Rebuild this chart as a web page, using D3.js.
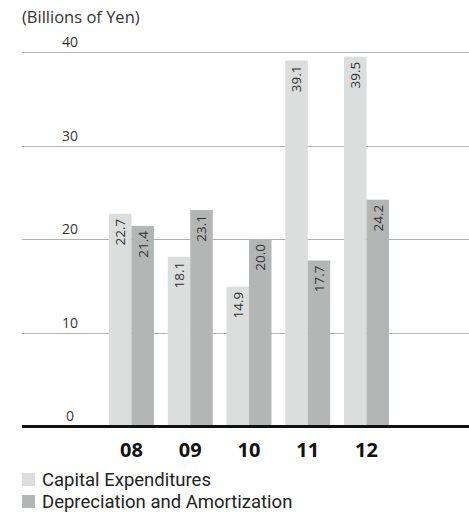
<!DOCTYPE html>
<html><head><meta charset="utf-8">
<script src="https://cdn.jsdelivr.net/npm/d3@7"></script>
<style>
html,body{margin:0;padding:0;background:#fff;}
svg{display:block;font-family:"Open Sans","Noto Sans",sans-serif;}
</style></head>
<body>
<svg id="chart" width="469" height="512"></svg>
<script>
const years = ["08","09","10","11","12"];
const capex = [22.7, 18.1, 14.9, 39.1, 39.5];
const depreciation = [21.4, 23.1, 20.0, 17.7, 24.2];
const seriesNames = ["Capital Expenditures", "Depreciation and Amortization"];
const yTicks = [0, 10, 20, 30, 40];
const unitLabel = "(Billions of Yen)";

const colors = ["#dcdddd", "#b4b5b5"];
const svg = d3.select("#chart");

const y = d3.scaleLinear().domain([0, 40]).range([426, 52]);
const x = d3.scaleBand().domain(years).range([102.1, 395.9]).paddingInner(0.234).paddingOuter(0.117);
const xs = d3.scaleBand().domain([0, 1]).range([0, x.bandwidth()]);

// unit label
svg.append("text").attr("x", 22).attr("y", 23).attr("font-size", 16.5).attr("fill", "#333").text(unitLabel);

// gridlines + tick labels
const g = svg.append("g");
g.selectAll("line.grid").data(yTicks.filter(d => d > 0)).join("line")
  .attr("class", "grid").attr("x1", 22).attr("x2", 469)
  .attr("y1", d => Math.round(y(d)) + 0.5).attr("y2", d => Math.round(y(d)) + 0.5)
  .attr("stroke", "#b0b0b0").attr("stroke-width", 1);
g.selectAll("text.tick").data(yTicks).join("text")
  .attr("class", "tick").attr("x", 70).attr("y", d => y(d) - 5)
  .attr("text-anchor", "middle").attr("font-size", 14).attr("fill", "#333")
  .text(d => d);

// bars
const series = [capex, depreciation];
const groups = svg.append("g").selectAll("g").data(years).join("g")
  .attr("transform", d => `translate(${x(d)},0)`);
series.forEach((vals, si) => {
  groups.append("rect")
    .attr("x", xs(si)).attr("width", xs.bandwidth())
    .attr("y", (d, i) => y(vals[i])).attr("height", (d, i) => y(0) - y(vals[i]))
    .attr("fill", colors[si]);
  groups.append("text")
    .attr("transform", (d, i) => `translate(${xs(si) + xs.bandwidth() / 2},${y(vals[i]) + 5}) rotate(-90)`)
    .attr("text-anchor", "end").attr("dy", "0.36em")
    .attr("font-size", 13.5).attr("fill", "#333")
    .text((d, i) => vals[i].toFixed(1));
});

// baseline
svg.append("line").attr("x1", 22).attr("x2", 469).attr("y1", y(0) + 0.5).attr("y2", y(0) + 0.5)
  .attr("stroke", "#111").attr("stroke-width", 3);

// x axis labels
svg.append("g").selectAll("text").data(years).join("text")
  .attr("x", d => x(d) + x.bandwidth() / 2).attr("y", 457)
  .attr("text-anchor", "middle").attr("font-size", 20).attr("font-weight", "bold").attr("fill", "#111")
  .text(d => d);

// legend
const leg = svg.append("g").selectAll("g").data(seriesNames).join("g")
  .attr("transform", (d, i) => `translate(22,${473 + i * 22})`);
leg.append("rect").attr("width", 13).attr("height", 13).attr("fill", (d, i) => colors[i]);
leg.append("text").attr("x", 20).attr("y", 13).attr("font-size", 18.5)
  .attr("font-family", "Roboto, 'Liberation Sans', sans-serif").attr("fill", "#222").text(d => d);
</script>
</body></html>
